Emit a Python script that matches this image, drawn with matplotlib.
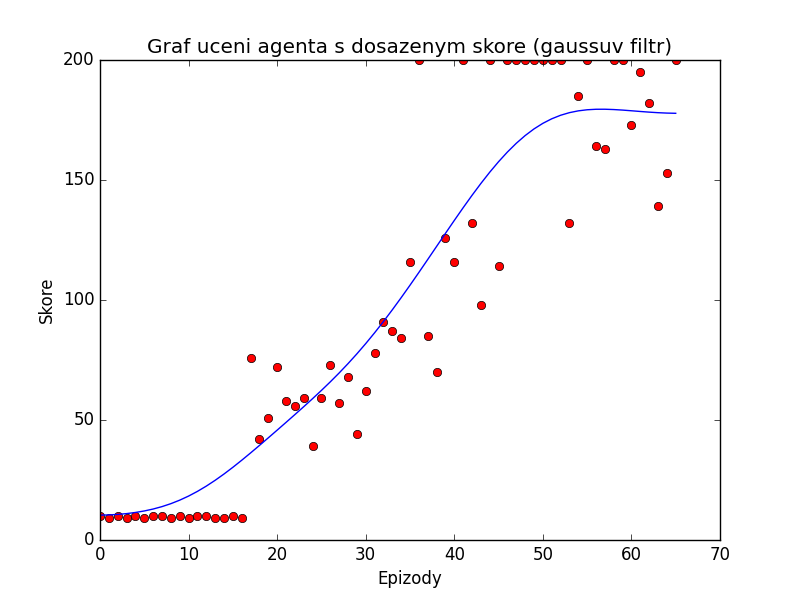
import numpy as np
import matplotlib
matplotlib.use('Agg')
import matplotlib.pyplot as plt

# skore agenta po epizodach
epizody = np.arange(66)
skore = [10, 9, 10, 9, 10, 9, 10, 10, 9, 10,
         9, 10, 10, 9, 9, 10, 9, 76, 42, 51,
         72, 58, 56, 59, 39, 59, 73, 57, 68, 44,
         62, 78, 91, 87, 84, 116, 200, 85, 70, 126,
         116, 200, 132, 98, 200, 114, 200, 200, 200, 200,
         200, 200, 200, 132, 185, 200, 164, 163, 200, 200,
         173, 195, 182, 139, 153, 200]

sigma = 7.0


def gauss_filtr(data, sigma):
    # stejne jako scipy.ndimage.gaussian_filter1d (mode reflect, truncate 4)
    data = np.asarray(data, dtype=float)
    r = int(4.0 * sigma + 0.5)
    k = np.arange(-r, r + 1)
    w = np.exp(-0.5 * (k / sigma) ** 2)
    w = w / w.sum()
    padded = np.pad(data, r, mode='symmetric')
    return np.convolve(padded, w, mode='valid')


plt.style.use('classic')
fig = plt.figure(figsize=(8, 6), dpi=100)
fig.patch.set_facecolor('white')
ax = fig.add_subplot(111)

ax.plot(epizody, skore, 'ro')
ax.plot(epizody, gauss_filtr(skore, sigma), 'b-')

ax.set_title('Graf uceni agenta s dosazenym skore (gaussuv filtr)')
ax.set_xlabel('Epizody')
ax.set_ylabel('Skore')
ax.set_xlim(0, 70)
ax.set_ylim(0, 200)

fig.savefig('out.png', dpi=100, facecolor='white')
